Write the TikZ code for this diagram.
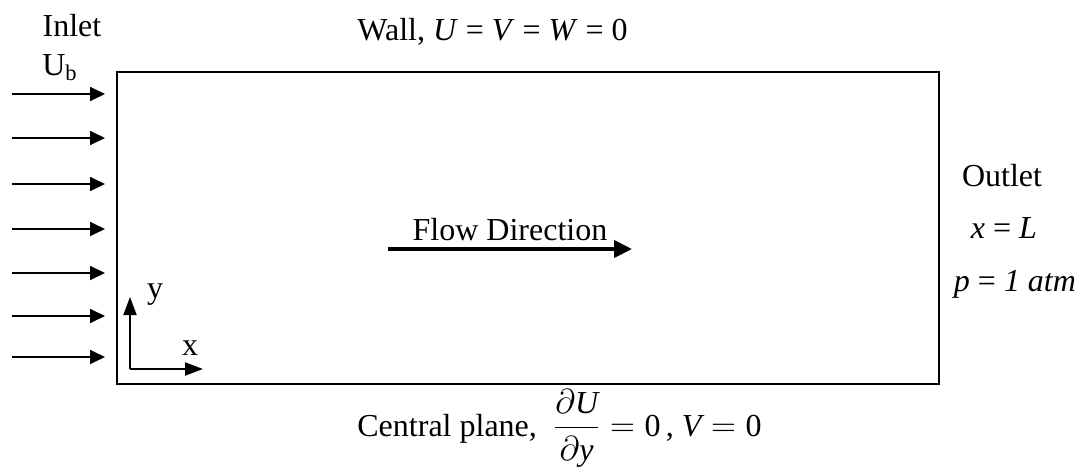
\documentclass[tikz,border=0pt]{standalone}
\usepackage{amsmath}
\usepackage{fontspec}
\setmainfont{Liberation Serif}
\usetikzlibrary{arrows.meta,positioning}

\begin{document}
\begin{tikzpicture}[x=0.5pt,y=-0.5pt,font=\fontsize{16}{19}\selectfont,
    inflow/.style={-{Triangle[length=7.5pt,width=7pt]},line width=0.9pt},
    axis/.style={-{Triangle[length=9pt,width=6.5pt]},line width=1pt},
    lbl/.style={inner sep=0pt}]
  \useasboundingbox (0,0) rectangle (1089,472);
  % computational domain
  \node[draw,line width=1pt,minimum width=411pt,minimum height=156pt,anchor=north west,inner sep=0pt] (dom) at (116,71) {};
  % inlet profile
  \foreach \yy [count=\i] in {94,138,184,229,273,316,357} {
    \coordinate (in\i) at (12,\yy);
    \coordinate (inend\i) at (105,\yy);
    \draw[inflow] (in\i) -- (inend\i);
  }
  \node[lbl] (inlet) at (72,26) {Inlet};
  \node[lbl] (ub) at (60,68) {U\textsubscript{b}};
  % boundary labels
  \node[lbl,anchor=west] (wall) at (357,32) {Wall, \textit{U} = \textit{V} = \textit{W} = 0};
  \node[lbl] (outlet) at (1002,176) {Outlet};
  \node[lbl] (xl) at (1004,228) {\textit{x} = \textit{L}};
  \node[lbl] (pout) at (1015,284) {\textit{p} = \textit{1 atm}};
  \node[lbl,anchor=west] (central) at (357,428) {Central plane,\enspace $\dfrac{\partial\mathit{U}}{\partial\mathit{y}} = \mathrm{0}$\,, $\mathit{V} = \mathrm{0}$};
  % flow direction
  \coordinate (fs) at (388,249);
  \coordinate (fe) at (632,249);
  \draw[-{Triangle[length=9pt,width=8.5pt]},line width=2pt] (fs) -- node[above=3pt,lbl] (flow) {Flow Direction} (fe);
  % axes
  \coordinate (orig) at (130,369);
  \coordinate (ytip) at (130,297);
  \coordinate (xtip) at (203,369);
  \draw[axis] (orig) -- (ytip);
  \draw[axis] (orig) -- (xtip);
  \node[lbl] (ylab) at (155,295) {y};
  \node[lbl] (xlab) at (190,348) {x};
\end{tikzpicture}
\end{document}
